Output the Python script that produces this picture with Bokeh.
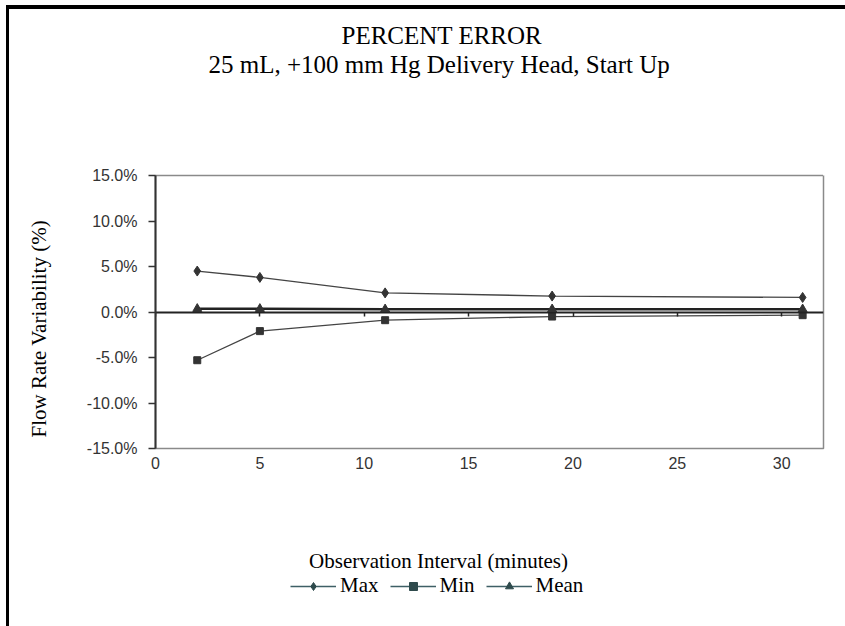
from bokeh.plotting import figure
from bokeh.layouts import column
from bokeh.models import (Range1d, LinearAxis, FixedTicker, PrintfTickFormatter,
                          Title, Label, Legend, LegendItem)
from bokeh.embed import file_html
from bokeh.resources import INLINE

# ---- data ----
minutes = [2, 5, 11, 19, 31]
max_pct = [4.5, 3.8, 2.1, 1.75, 1.6]
min_pct = [-5.3, -2.1, -0.9, -0.5, -0.35]
mean_pct = [0.35, 0.35, 0.3, 0.3, 0.3]
x_ticks = [0, 5, 10, 15, 20, 25, 30]
y_ticks = [-15, -10, -5, 0, 5, 10, 15]
series_names = ["Max", "Min", "Mean"]

title_text = "PERCENT ERROR"
subtitle_text = "25 mL, +100 mm Hg Delivery Head, Start Up"
x_title = "Observation Interval (minutes)"
y_title = "Flow Rate Variability (%)"

X_MIN, X_MAX, Y_MIN, Y_MAX = 0, 32, -15, 15

serif = "Liberation Serif"
sans = "Liberation Sans"

W = 836
p = figure(width=W, height=469, output_backend="svg", toolbar_location=None,
           x_range=Range1d(X_MIN, X_MAX), y_range=Range1d(Y_MIN, Y_MAX),
           min_border_left=146, min_border_right=22,
           min_border_top=166, min_border_bottom=30,
           x_axis_location=None, y_axis_location=None)
p.background_fill_color = "white"
p.border_fill_color = "white"
p.grid.visible = False
p.outline_line_color = "#8a8a8a"
p.outline_line_width = 1.5


def spacer(size, side, at):
    # blank axis (one white tick, empty label) used only to reserve space in a side panel
    ax = LinearAxis(ticker=FixedTicker(ticks=[at]), major_label_overrides={at: ""})
    ax.axis_line_color = None
    ax.major_tick_line_color = "white"
    ax.minor_tick_line_color = None
    ax.major_tick_out = size
    ax.major_tick_in = 0
    ax.minor_tick_out = 0
    ax.major_label_standoff = 0
    ax.major_label_text_font_size = "1px"
    p.add_layout(ax, side)


def title(text, side, offset, size, standoff=0):
    p.add_layout(Title(text=text, align="left", offset=offset, standoff=standoff,
                       text_font=serif, text_font_size=size, text_font_style="normal",
                       text_color="black"), side)


# ---- left panel (stacked from the frame outward) ----
yax = LinearAxis(ticker=FixedTicker(ticks=y_ticks),
                 formatter=PrintfTickFormatter(format="%.1f%%"))
yax.axis_line_color = "#333333"
yax.axis_line_width = 2
yax.major_tick_line_color = "#333333"
yax.major_tick_line_width = 1.5
yax.major_tick_out = 7
yax.major_tick_in = 0
yax.minor_tick_line_color = None
yax.major_label_text_font = sans
yax.major_label_text_font_size = "16px"
yax.major_label_text_color = "#333333"
yax.major_label_standoff = 11
p.add_layout(yax, "left")
spacer(33, "left", Y_MIN)
title(y_title, "left", 11, "21px")

# ---- below panel: tick labels ----
xax = LinearAxis(ticker=FixedTicker(ticks=x_ticks))
xax.axis_line_color = None
xax.major_tick_line_color = None
xax.minor_tick_line_color = None
xax.major_tick_out = 0
xax.major_tick_in = 0
xax.major_label_text_font = sans
xax.major_label_text_font_size = "16px"
xax.major_label_text_color = "#333333"
xax.major_label_standoff = 8
p.add_layout(xax, "below")

# axis on the zero line: ticks only
zax = LinearAxis(ticker=FixedTicker(ticks=x_ticks), fixed_location=0)
zax.axis_line_color = "#222222"
zax.axis_line_width = 2
zax.major_tick_line_color = "#222222"
zax.major_tick_line_width = 1.5
zax.major_tick_out = 4
zax.major_tick_in = 0
zax.minor_tick_line_color = None
zax.major_label_text_font_size = "0px"
zax.major_label_text_alpha = 0
zax.major_label_standoff = 0
p.add_layout(zax, "below")

# ---- above panel ----
spacer(98, "above", X_MAX)
title(subtitle_text, "above", 53, "25px")
title(title_text, "above", 186, "25px")

# ---- chart marks ----
dark = "#333333"
p.line(minutes, max_pct, line_color="#444444", line_width=1.3)
p.scatter(minutes, max_pct, marker="diamond", size=10, color=dark)
p.line(minutes, min_pct, line_color="#444444", line_width=1.3)
p.scatter(minutes, min_pct, marker="square", size=7, color=dark)
p.line(minutes, mean_pct, line_color="#222222", line_width=2.5)
p.scatter(minutes, mean_pct, marker="triangle", size=9, color=dark)

# ---- bottom strip: axis title and legend (frame aligned with the chart's frame) ----
p2 = figure(width=W, height=148, output_backend="svg", toolbar_location=None,
            x_range=Range1d(X_MIN, X_MAX), y_range=Range1d(Y_MIN, Y_MAX),
            min_border_left=0, min_border_right=0, min_border_top=0, min_border_bottom=0,
            x_axis_location=None, y_axis_location=None)
p2.grid.visible = False
p2.outline_line_color = None
p2.background_fill_color = "white"
p2.border_fill_color = "white"

p2.add_layout(Label(x=283, y=66, x_units="screen", y_units="screen", text=x_title,
                    text_font=serif, text_font_size="21px", text_color="black",
                    text_align="center", text_baseline="middle"))

leg_line = "#3e5f66"
leg_mark = "#2e4a4c"
items = []
for name, ys, mk, sz in zip(series_names, [max_pct, min_pct, mean_pct],
                            ["diamond", "square", "triangle"], [12, 9, 10]):
    lr = p2.line(minutes, ys, line_color=leg_line, line_width=1.5, visible=False)
    mr = p2.scatter(minutes, ys, marker=mk, size=sz, color=leg_mark, visible=False)
    items.append(LegendItem(label=name, renderers=[lr, mr]))

legend = Legend(items=items, orientation="horizontal", location=(135, 28),
                label_text_font=serif, label_text_font_size="21px",
                label_text_color="black", glyph_width=46, glyph_height=20,
                label_height=20, label_standoff=4, spacing=11, padding=0, margin=0,
                border_line_color=None, background_fill_alpha=0)
p2.add_layout(legend)

layout = column(p, p2, spacing=0)
layout.styles = {"margin-left": "6px", "margin-top": "5px",
                 "border-left": "3px solid black", "border-top": "4px solid black"}

open("out.html", "w").write(file_html(layout, INLINE))
